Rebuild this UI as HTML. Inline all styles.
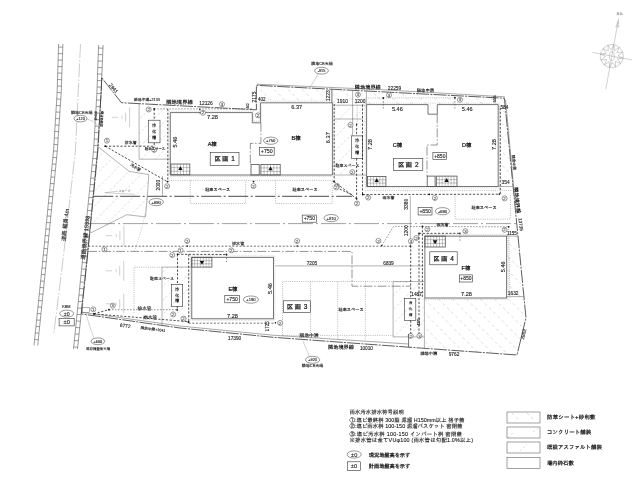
<!DOCTYPE html>
<html lang="ja"><head><meta charset="utf-8"><title>雨水汚水排水計画図</title>
<style>
html,body{margin:0;padding:0;background:#fff;}
body{width:640px;height:477px;overflow:hidden;}
svg{display:block;will-change:transform;}
text{font-family:"Liberation Sans","IPAGothic","Noto Sans CJK JP",sans-serif;}
.t{fill:#222;stroke:#222;stroke-width:.12;}
.tn{fill:#333;stroke:#333;stroke-width:.08;}
.tg{fill:#555;}
.tv{writing-mode:vertical-rl;text-orientation:upright;dominant-baseline:central;}
.t2{fill:#1a1a1a;stroke:#1a1a1a;stroke-width:.22;}
.tk{fill:#111;stroke:#111;stroke-width:.2;letter-spacing:1.1px;word-spacing:-1.2px;}
.tb{fill:#1a1a1a;font-weight:bold;}
.lad{stroke:#5a5a5a;stroke-width:.6;fill:none;}
.cl{stroke:#999;stroke-width:.5;fill:none;stroke-dasharray:14 2 1.5 2;}
.bd{stroke:#333;stroke-width:.8;fill:none;stroke-linejoin:miter;stroke-dasharray:13 1.2 2 1.2;}
.bd2{stroke:#555;stroke-width:.5;fill:none;}
.wall{stroke:#505050;stroke-width:.8;fill:none;}
.walld{stroke:#999;stroke-width:.45;fill:none;stroke-dasharray:.9 .9;}
.thin{stroke:#666;stroke-width:.5;fill:none;}
.thin3{stroke:#555;stroke-width:.55;fill:none;}
.thin2{stroke:#333;stroke-width:.6;fill:none;}
.grid{stroke:#555;stroke-width:.35;fill:none;}
.tri{fill:#111;stroke:none;}
.box{stroke:#333;stroke-width:.6;fill:#fff;}
.nc{stroke:#333;stroke-width:.5;fill:#fff;}
.dot{fill:#111;}
.dotl{stroke:#777;stroke-width:.5;fill:none;stroke-dasharray:1 1.2;}
.pipe{stroke:#222;stroke-width:.8;fill:none;stroke-dasharray:2.2 1.6;}
.pipe2{stroke:#333;stroke-width:.7;fill:none;stroke-dasharray:2 1.6;}
.pipet{stroke:#444;stroke-width:.55;fill:none;stroke-dasharray:1.6 1.4;}
.dd1{stroke:#2a2a2a;stroke-width:.85;fill:none;stroke-dasharray:20 2.5 2 2.5;}
.dd2{stroke:#555;stroke-width:.55;fill:none;stroke-dasharray:25 3 2 3;}
.lot{stroke:#3a3a3a;stroke-width:.55;fill:none;stroke-dasharray:9 1.8 1.5 1.8;}
.hat{stroke:#b4b4b4;stroke-width:.5;fill:none;stroke-dasharray:3 3;}
.hat2{stroke:#bbb;stroke-width:.5;fill:none;stroke-dasharray:2.5 2;}
.gl{stroke:#999;stroke-width:.45;fill:none;}
.gl2{stroke:#a0a0a0;stroke-width:.5;fill:none;}
.arc{stroke:#999;stroke-width:.45;fill:none;stroke-dasharray:1.2 1.2;}
</style></head>
<body>
<svg width="640" height="477" viewBox="0 0 640 477">
<rect x="0" y="0" width="640" height="477" fill="#fff"/>
<polyline points="58.6,44.0 57.1,93.0 53.6,150.0 42.8,260.0 34.0,345.5" class="lad"/>
<polyline points="62.9,44.0 61.2,93.0 57.4,150.0 46.5,260.0 37.7,345.5" class="lad"/>
<polyline points="98.6,45.0 96.9,93.0 93.6,150.0 82.5,260.0 73.5,349.0" class="lad"/>
<polyline points="103.1,45.0 101.1,93.0 97.6,150.0 86.8,260.0 77.5,349.0" class="lad"/>
<line x1="58.5" y1="47.0" x2="62.8" y2="47.2" class="lad"/>
<line x1="58.3" y1="53.5" x2="62.6" y2="53.7" class="lad"/>
<line x1="58.1" y1="60.0" x2="62.3" y2="60.2" class="lad"/>
<line x1="57.9" y1="66.5" x2="62.1" y2="66.7" class="lad"/>
<line x1="57.7" y1="73.0" x2="61.9" y2="73.2" class="lad"/>
<line x1="57.5" y1="79.5" x2="61.7" y2="79.7" class="lad"/>
<line x1="57.3" y1="86.0" x2="61.4" y2="86.2" class="lad"/>
<line x1="57.1" y1="92.5" x2="61.2" y2="92.7" class="lad"/>
<line x1="56.7" y1="99.0" x2="60.8" y2="99.2" class="lad"/>
<line x1="56.3" y1="105.5" x2="60.4" y2="105.7" class="lad"/>
<line x1="55.9" y1="112.0" x2="59.9" y2="112.2" class="lad"/>
<line x1="55.5" y1="118.5" x2="59.5" y2="118.7" class="lad"/>
<line x1="55.1" y1="125.0" x2="59.1" y2="125.2" class="lad"/>
<line x1="54.7" y1="131.5" x2="58.6" y2="131.7" class="lad"/>
<line x1="54.3" y1="138.0" x2="58.2" y2="138.2" class="lad"/>
<line x1="53.9" y1="144.5" x2="57.8" y2="144.7" class="lad"/>
<line x1="53.5" y1="151.0" x2="57.3" y2="151.2" class="lad"/>
<line x1="52.9" y1="157.5" x2="56.7" y2="157.7" class="lad"/>
<line x1="52.2" y1="164.0" x2="56.0" y2="164.2" class="lad"/>
<line x1="51.6" y1="170.5" x2="55.4" y2="170.7" class="lad"/>
<line x1="50.9" y1="177.0" x2="54.7" y2="177.2" class="lad"/>
<line x1="50.3" y1="183.5" x2="54.1" y2="183.7" class="lad"/>
<line x1="49.7" y1="190.0" x2="53.4" y2="190.2" class="lad"/>
<line x1="49.0" y1="196.5" x2="52.8" y2="196.7" class="lad"/>
<line x1="48.4" y1="203.0" x2="52.1" y2="203.2" class="lad"/>
<line x1="47.8" y1="209.5" x2="51.5" y2="209.7" class="lad"/>
<line x1="47.1" y1="216.0" x2="50.9" y2="216.2" class="lad"/>
<line x1="46.5" y1="222.5" x2="50.2" y2="222.7" class="lad"/>
<line x1="45.8" y1="229.0" x2="49.6" y2="229.2" class="lad"/>
<line x1="45.2" y1="235.5" x2="48.9" y2="235.7" class="lad"/>
<line x1="44.6" y1="242.0" x2="48.3" y2="242.2" class="lad"/>
<line x1="43.9" y1="248.5" x2="47.6" y2="248.7" class="lad"/>
<line x1="43.3" y1="255.0" x2="47.0" y2="255.2" class="lad"/>
<line x1="42.6" y1="261.5" x2="46.3" y2="261.7" class="lad"/>
<line x1="42.0" y1="268.0" x2="45.7" y2="268.2" class="lad"/>
<line x1="41.3" y1="274.5" x2="45.0" y2="274.7" class="lad"/>
<line x1="40.6" y1="281.0" x2="44.3" y2="281.2" class="lad"/>
<line x1="40.0" y1="287.5" x2="43.7" y2="287.7" class="lad"/>
<line x1="39.3" y1="294.0" x2="43.0" y2="294.2" class="lad"/>
<line x1="38.6" y1="300.5" x2="42.3" y2="300.7" class="lad"/>
<line x1="38.0" y1="307.0" x2="41.7" y2="307.2" class="lad"/>
<line x1="37.3" y1="313.5" x2="41.0" y2="313.7" class="lad"/>
<line x1="36.6" y1="320.0" x2="40.3" y2="320.2" class="lad"/>
<line x1="36.0" y1="326.5" x2="39.7" y2="326.7" class="lad"/>
<line x1="35.3" y1="333.0" x2="39.0" y2="333.2" class="lad"/>
<line x1="34.6" y1="339.5" x2="38.3" y2="339.7" class="lad"/>
<line x1="98.5" y1="48.0" x2="103.0" y2="48.2" class="lad"/>
<line x1="98.3" y1="54.5" x2="102.7" y2="54.7" class="lad"/>
<line x1="98.0" y1="61.0" x2="102.4" y2="61.2" class="lad"/>
<line x1="97.8" y1="67.5" x2="102.2" y2="67.7" class="lad"/>
<line x1="97.6" y1="74.0" x2="101.9" y2="74.2" class="lad"/>
<line x1="97.3" y1="80.5" x2="101.6" y2="80.7" class="lad"/>
<line x1="97.1" y1="87.0" x2="101.3" y2="87.2" class="lad"/>
<line x1="96.9" y1="93.5" x2="101.1" y2="93.7" class="lad"/>
<line x1="96.5" y1="100.0" x2="100.7" y2="100.2" class="lad"/>
<line x1="96.1" y1="106.5" x2="100.3" y2="106.7" class="lad"/>
<line x1="95.7" y1="113.0" x2="99.9" y2="113.2" class="lad"/>
<line x1="95.4" y1="119.5" x2="99.5" y2="119.7" class="lad"/>
<line x1="95.0" y1="126.0" x2="99.1" y2="126.2" class="lad"/>
<line x1="94.6" y1="132.5" x2="98.7" y2="132.7" class="lad"/>
<line x1="94.2" y1="139.0" x2="98.3" y2="139.2" class="lad"/>
<line x1="93.9" y1="145.5" x2="97.9" y2="145.7" class="lad"/>
<line x1="93.4" y1="152.0" x2="97.4" y2="152.2" class="lad"/>
<line x1="92.7" y1="158.5" x2="96.8" y2="158.7" class="lad"/>
<line x1="92.1" y1="165.0" x2="96.1" y2="165.2" class="lad"/>
<line x1="91.4" y1="171.5" x2="95.5" y2="171.7" class="lad"/>
<line x1="90.8" y1="178.0" x2="94.9" y2="178.2" class="lad"/>
<line x1="90.1" y1="184.5" x2="94.2" y2="184.7" class="lad"/>
<line x1="89.5" y1="191.0" x2="93.6" y2="191.2" class="lad"/>
<line x1="88.8" y1="197.5" x2="92.9" y2="197.7" class="lad"/>
<line x1="88.2" y1="204.0" x2="92.3" y2="204.2" class="lad"/>
<line x1="87.5" y1="210.5" x2="91.7" y2="210.7" class="lad"/>
<line x1="86.8" y1="217.0" x2="91.0" y2="217.2" class="lad"/>
<line x1="86.2" y1="223.5" x2="90.4" y2="223.7" class="lad"/>
<line x1="85.5" y1="230.0" x2="89.7" y2="230.2" class="lad"/>
<line x1="84.9" y1="236.5" x2="89.1" y2="236.7" class="lad"/>
<line x1="84.2" y1="243.0" x2="88.5" y2="243.2" class="lad"/>
<line x1="83.6" y1="249.5" x2="87.8" y2="249.7" class="lad"/>
<line x1="82.9" y1="256.0" x2="87.2" y2="256.2" class="lad"/>
<line x1="82.2" y1="262.5" x2="86.5" y2="262.7" class="lad"/>
<line x1="81.6" y1="269.0" x2="85.9" y2="269.2" class="lad"/>
<line x1="80.9" y1="275.5" x2="85.2" y2="275.7" class="lad"/>
<line x1="80.3" y1="282.0" x2="84.5" y2="282.2" class="lad"/>
<line x1="79.6" y1="288.5" x2="83.8" y2="288.7" class="lad"/>
<line x1="79.0" y1="295.0" x2="83.1" y2="295.2" class="lad"/>
<line x1="78.3" y1="301.5" x2="82.5" y2="301.7" class="lad"/>
<line x1="77.6" y1="308.0" x2="81.8" y2="308.2" class="lad"/>
<line x1="77.0" y1="314.5" x2="81.1" y2="314.7" class="lad"/>
<line x1="76.3" y1="321.0" x2="80.4" y2="321.2" class="lad"/>
<line x1="75.7" y1="327.5" x2="79.7" y2="327.7" class="lad"/>
<line x1="75.0" y1="334.0" x2="79.1" y2="334.2" class="lad"/>
<line x1="74.4" y1="340.5" x2="78.4" y2="340.7" class="lad"/>
<line x1="73.7" y1="347.0" x2="77.7" y2="347.2" class="lad"/>
<polyline points="80.5,44.0 75.5,150.0 62.9,260.7 53.6,335.0" class="cl"/>
<text x="0" y="1.98" font-size="5.5" text-anchor="middle" class="t" transform="translate(65.2 225.1) rotate(-84)">道路 幅員:4m</text>
<text x="0" y="1.98" font-size="5.5" text-anchor="middle" class="t" transform="translate(85.2 237.8) rotate(-84)">道路境界線 15598</text>
<text x="0" y="1.22" font-size="3.4" text-anchor="middle" class="t" transform="translate(95.6 116.0) rotate(-87)">15408</text>
<text x="0" y="1.15" font-size="3.2" text-anchor="middle" class="t" transform="translate(101.8 119.0) rotate(-87)">道路境界線</text>
<clipPath id="c1"><polygon points="256.4,85.3 332.4,89.3 332.4,102.8 260.6,102.8 256.4,102.5"/></clipPath>
<g clip-path="url(#c1)">
<line x1="227.9" y1="85.3" x2="245.4" y2="102.8" class="hat"/>
<line x1="241.9" y1="85.3" x2="259.4" y2="102.8" class="hat"/>
<line x1="255.9" y1="85.3" x2="273.4" y2="102.8" class="hat"/>
<line x1="269.9" y1="85.3" x2="287.4" y2="102.8" class="hat"/>
<line x1="283.9" y1="85.3" x2="301.4" y2="102.8" class="hat"/>
<line x1="297.9" y1="85.3" x2="315.4" y2="102.8" class="hat"/>
<line x1="311.9" y1="85.3" x2="329.4" y2="102.8" class="hat"/>
<line x1="325.9" y1="85.3" x2="343.4" y2="102.8" class="hat"/>
<line x1="339.9" y1="85.3" x2="357.4" y2="102.8" class="hat"/>
<line x1="353.9" y1="85.3" x2="371.4" y2="102.8" class="hat"/>
</g>
<clipPath id="c2"><polygon points="332.4,89.3 504.4,98.2 513.0,187.0 498.2,186.5 498.2,104.6 332.4,104.6"/></clipPath>
<g clip-path="url(#c2)">
<line x1="229.7" y1="89.3" x2="327.4" y2="187.0" class="hat"/>
<line x1="243.7" y1="89.3" x2="341.4" y2="187.0" class="hat"/>
<line x1="257.7" y1="89.3" x2="355.4" y2="187.0" class="hat"/>
<line x1="271.7" y1="89.3" x2="369.4" y2="187.0" class="hat"/>
<line x1="285.7" y1="89.3" x2="383.4" y2="187.0" class="hat"/>
<line x1="299.7" y1="89.3" x2="397.4" y2="187.0" class="hat"/>
<line x1="313.7" y1="89.3" x2="411.4" y2="187.0" class="hat"/>
<line x1="327.7" y1="89.3" x2="425.4" y2="187.0" class="hat"/>
<line x1="341.7" y1="89.3" x2="439.4" y2="187.0" class="hat"/>
<line x1="355.7" y1="89.3" x2="453.4" y2="187.0" class="hat"/>
<line x1="369.7" y1="89.3" x2="467.4" y2="187.0" class="hat"/>
<line x1="383.7" y1="89.3" x2="481.4" y2="187.0" class="hat"/>
<line x1="397.7" y1="89.3" x2="495.4" y2="187.0" class="hat"/>
<line x1="411.7" y1="89.3" x2="509.4" y2="187.0" class="hat"/>
<line x1="425.7" y1="89.3" x2="523.4" y2="187.0" class="hat"/>
<line x1="439.7" y1="89.3" x2="537.4" y2="187.0" class="hat"/>
<line x1="453.7" y1="89.3" x2="551.4" y2="187.0" class="hat"/>
<line x1="467.7" y1="89.3" x2="565.4" y2="187.0" class="hat"/>
<line x1="481.7" y1="89.3" x2="579.4" y2="187.0" class="hat"/>
<line x1="495.7" y1="89.3" x2="593.4" y2="187.0" class="hat"/>
<line x1="509.7" y1="89.3" x2="607.4" y2="187.0" class="hat"/>
<line x1="523.7" y1="89.3" x2="621.4" y2="187.0" class="hat"/>
<line x1="537.7" y1="89.3" x2="635.4" y2="187.0" class="hat"/>
<line x1="551.7" y1="89.3" x2="649.4" y2="187.0" class="hat"/>
<line x1="565.7" y1="89.3" x2="663.4" y2="187.0" class="hat"/>
<line x1="579.7" y1="89.3" x2="677.4" y2="187.0" class="hat"/>
<line x1="593.7" y1="89.3" x2="691.4" y2="187.0" class="hat"/>
<line x1="607.7" y1="89.3" x2="705.4" y2="187.0" class="hat"/>
<line x1="621.7" y1="89.3" x2="719.4" y2="187.0" class="hat"/>
</g>
<clipPath id="c3"><polygon points="334.0,105.2 366.6,105.2 366.6,175.0 334.0,175.0"/></clipPath>
<g clip-path="url(#c3)">
<line x1="325.0" y1="105.2" x2="255.2" y2="175.0" class="hat2"/>
<line x1="339.0" y1="105.2" x2="269.2" y2="175.0" class="hat2"/>
<line x1="353.0" y1="105.2" x2="283.2" y2="175.0" class="hat2"/>
<line x1="367.0" y1="105.2" x2="297.2" y2="175.0" class="hat2"/>
<line x1="381.0" y1="105.2" x2="311.2" y2="175.0" class="hat2"/>
<line x1="395.0" y1="105.2" x2="325.2" y2="175.0" class="hat2"/>
<line x1="409.0" y1="105.2" x2="339.2" y2="175.0" class="hat2"/>
<line x1="423.0" y1="105.2" x2="353.2" y2="175.0" class="hat2"/>
<line x1="437.0" y1="105.2" x2="367.2" y2="175.0" class="hat2"/>
<line x1="451.0" y1="105.2" x2="381.2" y2="175.0" class="hat2"/>
<line x1="465.0" y1="105.2" x2="395.2" y2="175.0" class="hat2"/>
<line x1="479.0" y1="105.2" x2="409.2" y2="175.0" class="hat2"/>
<line x1="493.0" y1="105.2" x2="423.2" y2="175.0" class="hat2"/>
<line x1="507.0" y1="105.2" x2="437.2" y2="175.0" class="hat2"/>
</g>
<clipPath id="c4"><polygon points="424.4,297.9 506.6,297.9 506.6,230.0 516.5,227.0 526.0,317.8 517.0,355.0 424.4,348.3"/></clipPath>
<g clip-path="url(#c4)">
<line x1="282.4" y1="227.0" x2="410.4" y2="355.0" class="hat"/>
<line x1="296.4" y1="227.0" x2="424.4" y2="355.0" class="hat"/>
<line x1="310.4" y1="227.0" x2="438.4" y2="355.0" class="hat"/>
<line x1="324.4" y1="227.0" x2="452.4" y2="355.0" class="hat"/>
<line x1="338.4" y1="227.0" x2="466.4" y2="355.0" class="hat"/>
<line x1="352.4" y1="227.0" x2="480.4" y2="355.0" class="hat"/>
<line x1="366.4" y1="227.0" x2="494.4" y2="355.0" class="hat"/>
<line x1="380.4" y1="227.0" x2="508.4" y2="355.0" class="hat"/>
<line x1="394.4" y1="227.0" x2="522.4" y2="355.0" class="hat"/>
<line x1="408.4" y1="227.0" x2="536.4" y2="355.0" class="hat"/>
<line x1="422.4" y1="227.0" x2="550.4" y2="355.0" class="hat"/>
<line x1="436.4" y1="227.0" x2="564.4" y2="355.0" class="hat"/>
<line x1="450.4" y1="227.0" x2="578.4" y2="355.0" class="hat"/>
<line x1="464.4" y1="227.0" x2="592.4" y2="355.0" class="hat"/>
<line x1="478.4" y1="227.0" x2="606.4" y2="355.0" class="hat"/>
<line x1="492.4" y1="227.0" x2="620.4" y2="355.0" class="hat"/>
<line x1="506.4" y1="227.0" x2="634.4" y2="355.0" class="hat"/>
<line x1="520.4" y1="227.0" x2="648.4" y2="355.0" class="hat"/>
<line x1="534.4" y1="227.0" x2="662.4" y2="355.0" class="hat"/>
<line x1="548.4" y1="227.0" x2="676.4" y2="355.0" class="hat"/>
<line x1="562.4" y1="227.0" x2="690.4" y2="355.0" class="hat"/>
<line x1="576.4" y1="227.0" x2="704.4" y2="355.0" class="hat"/>
<line x1="590.4" y1="227.0" x2="718.4" y2="355.0" class="hat"/>
<line x1="604.4" y1="227.0" x2="732.4" y2="355.0" class="hat"/>
<line x1="618.4" y1="227.0" x2="746.4" y2="355.0" class="hat"/>
<line x1="632.4" y1="227.0" x2="760.4" y2="355.0" class="hat"/>
<line x1="646.4" y1="227.0" x2="774.4" y2="355.0" class="hat"/>
<line x1="660.4" y1="227.0" x2="788.4" y2="355.0" class="hat"/>
</g>
<clipPath id="c5"><polygon points="139.1,103.5 170.3,105.0 170.3,159.2 139.1,159.2"/></clipPath>
<g clip-path="url(#c5)">
<line x1="127.1" y1="103.5" x2="71.4" y2="159.2" class="hat2"/>
<line x1="141.1" y1="103.5" x2="85.4" y2="159.2" class="hat2"/>
<line x1="155.1" y1="103.5" x2="99.4" y2="159.2" class="hat2"/>
<line x1="169.1" y1="103.5" x2="113.4" y2="159.2" class="hat2"/>
<line x1="183.1" y1="103.5" x2="127.4" y2="159.2" class="hat2"/>
<line x1="197.1" y1="103.5" x2="141.4" y2="159.2" class="hat2"/>
<line x1="211.1" y1="103.5" x2="155.4" y2="159.2" class="hat2"/>
<line x1="225.1" y1="103.5" x2="169.4" y2="159.2" class="hat2"/>
<line x1="239.1" y1="103.5" x2="183.4" y2="159.2" class="hat2"/>
<line x1="253.1" y1="103.5" x2="197.4" y2="159.2" class="hat2"/>
<line x1="267.1" y1="103.5" x2="211.4" y2="159.2" class="hat2"/>
<line x1="281.1" y1="103.5" x2="225.4" y2="159.2" class="hat2"/>
<line x1="295.1" y1="103.5" x2="239.4" y2="159.2" class="hat2"/>
</g>
<clipPath id="c6"><polygon points="162.0,267.1 191.8,267.1 191.8,322.0 162.0,325.5"/></clipPath>
<g clip-path="url(#c6)">
<line x1="154.0" y1="267.1" x2="95.6" y2="325.5" class="hat2"/>
<line x1="168.0" y1="267.1" x2="109.6" y2="325.5" class="hat2"/>
<line x1="182.0" y1="267.1" x2="123.6" y2="325.5" class="hat2"/>
<line x1="196.0" y1="267.1" x2="137.6" y2="325.5" class="hat2"/>
<line x1="210.0" y1="267.1" x2="151.6" y2="325.5" class="hat2"/>
<line x1="224.0" y1="267.1" x2="165.6" y2="325.5" class="hat2"/>
<line x1="238.0" y1="267.1" x2="179.6" y2="325.5" class="hat2"/>
<line x1="252.0" y1="267.1" x2="193.6" y2="325.5" class="hat2"/>
<line x1="266.0" y1="267.1" x2="207.6" y2="325.5" class="hat2"/>
<line x1="280.0" y1="267.1" x2="221.6" y2="325.5" class="hat2"/>
<line x1="294.0" y1="267.1" x2="235.6" y2="325.5" class="hat2"/>
<line x1="308.0" y1="267.1" x2="249.6" y2="325.5" class="hat2"/>
<line x1="322.0" y1="267.1" x2="263.6" y2="325.5" class="hat2"/>
</g>
<clipPath id="c7"><polygon points="393.1,281.6 424.4,281.6 424.4,336.9 393.1,336.9"/></clipPath>
<g clip-path="url(#c7)">
<line x1="379.1" y1="281.6" x2="323.8" y2="336.9" class="hat2"/>
<line x1="393.1" y1="281.6" x2="337.8" y2="336.9" class="hat2"/>
<line x1="407.1" y1="281.6" x2="351.8" y2="336.9" class="hat2"/>
<line x1="421.1" y1="281.6" x2="365.8" y2="336.9" class="hat2"/>
<line x1="435.1" y1="281.6" x2="379.8" y2="336.9" class="hat2"/>
<line x1="449.1" y1="281.6" x2="393.8" y2="336.9" class="hat2"/>
<line x1="463.1" y1="281.6" x2="407.8" y2="336.9" class="hat2"/>
<line x1="477.1" y1="281.6" x2="421.8" y2="336.9" class="hat2"/>
<line x1="491.1" y1="281.6" x2="435.8" y2="336.9" class="hat2"/>
<line x1="505.1" y1="281.6" x2="449.8" y2="336.9" class="hat2"/>
<line x1="519.1" y1="281.6" x2="463.8" y2="336.9" class="hat2"/>
<line x1="533.1" y1="281.6" x2="477.8" y2="336.9" class="hat2"/>
<line x1="547.1" y1="281.6" x2="491.8" y2="336.9" class="hat2"/>
</g>
<clipPath id="c8"><polygon points="98.6,147.1 129.0,171.3 148.8,174.6 147.3,196.6 145.5,216.9 126.8,214.7 89.4,233.6 93.5,196.0"/></clipPath>
<g clip-path="url(#c8)">
<line x1="78.4" y1="147.1" x2="-8.1" y2="233.6" class="hat2"/>
<line x1="93.4" y1="147.1" x2="6.9" y2="233.6" class="hat2"/>
<line x1="108.4" y1="147.1" x2="21.9" y2="233.6" class="hat2"/>
<line x1="123.4" y1="147.1" x2="36.9" y2="233.6" class="hat2"/>
<line x1="138.4" y1="147.1" x2="51.9" y2="233.6" class="hat2"/>
<line x1="153.4" y1="147.1" x2="66.9" y2="233.6" class="hat2"/>
<line x1="168.4" y1="147.1" x2="81.9" y2="233.6" class="hat2"/>
<line x1="183.4" y1="147.1" x2="96.9" y2="233.6" class="hat2"/>
<line x1="198.4" y1="147.1" x2="111.9" y2="233.6" class="hat2"/>
<line x1="213.4" y1="147.1" x2="126.9" y2="233.6" class="hat2"/>
<line x1="228.4" y1="147.1" x2="141.9" y2="233.6" class="hat2"/>
<line x1="243.4" y1="147.1" x2="156.9" y2="233.6" class="hat2"/>
<line x1="258.4" y1="147.1" x2="171.9" y2="233.6" class="hat2"/>
<line x1="273.4" y1="147.1" x2="186.9" y2="233.6" class="hat2"/>
<line x1="288.4" y1="147.1" x2="201.9" y2="233.6" class="hat2"/>
<line x1="303.4" y1="147.1" x2="216.9" y2="233.6" class="hat2"/>
<line x1="318.4" y1="147.1" x2="231.9" y2="233.6" class="hat2"/>
<line x1="333.4" y1="147.1" x2="246.9" y2="233.6" class="hat2"/>
</g>
<polyline points="101.8,77.8 101.1,93.0 97.9,150.0 87.1,260.0 81.3,313.9 180.0,328.0 273.0,337.3 420.0,348.0 517.0,355.0 526.0,317.8 504.4,98.2 256.4,85.3 256.4,109.8 121.4,102.7 101.8,77.8" class="bd"/>
<polyline points="256.9,84.2 380.0,89.6 504.9,96.8" class="bd2"/>
<polyline points="82.0,312.3 180.0,326.0 273.0,335.2 408.6,344.0" class="bd2"/>
<polyline points="505.6,100.0 513.6,186.4" class="bd2"/>
<polygon points="170.3,112.6 252.3,112.6 252.3,122.8 260.6,122.8 260.6,102.8 332.4,102.8 332.4,175.0 170.3,175.0" class="wall"/>
<polygon points="168.9,111.2 253.7,111.2 253.7,121.4 259.2,121.4 259.2,101.1 333.8,101.1 333.8,176.4 168.9,176.4" class="walld"/>
<rect x="171.0" y="164.0" width="18.8" height="10.8" class="wall"/>
<line x1="174.1" y1="164.0" x2="174.1" y2="174.8" class="grid"/>
<line x1="177.3" y1="164.0" x2="177.3" y2="174.8" class="grid"/>
<line x1="180.4" y1="164.0" x2="180.4" y2="174.8" class="grid"/>
<line x1="183.5" y1="164.0" x2="183.5" y2="174.8" class="grid"/>
<line x1="186.7" y1="164.0" x2="186.7" y2="174.8" class="grid"/>
<line x1="171.0" y1="167.6" x2="189.8" y2="167.6" class="grid"/>
<line x1="171.0" y1="171.2" x2="189.8" y2="171.2" class="grid"/>
<polygon points="178.2,170.0 182.6,170.0 180.4,166.2" class="tri"/>
<rect x="260.9" y="164.4" width="19.3" height="10.6" class="wall"/>
<line x1="264.1" y1="164.4" x2="264.1" y2="175.0" class="grid"/>
<line x1="267.3" y1="164.4" x2="267.3" y2="175.0" class="grid"/>
<line x1="270.5" y1="164.4" x2="270.5" y2="175.0" class="grid"/>
<line x1="273.8" y1="164.4" x2="273.8" y2="175.0" class="grid"/>
<line x1="277.0" y1="164.4" x2="277.0" y2="175.0" class="grid"/>
<line x1="260.9" y1="167.9" x2="280.2" y2="167.9" class="grid"/>
<line x1="260.9" y1="171.5" x2="280.2" y2="171.5" class="grid"/>
<polygon points="268.3,170.3 272.7,170.3 270.5,166.5" class="tri"/>
<rect x="251.0" y="164.4" width="8.2" height="10.6" class="wall"/>
<polyline points="260.9,122.8 260.9,143.4 250.3,143.4 250.3,164.4" class="lot"/>
<polygon points="366.6,104.6 428.0,104.6 428.0,114.2 437.3,114.2 437.3,104.6 498.2,104.6 498.2,186.5 366.6,186.5" class="wall"/>
<polygon points="365.2,103.2 499.6,103.2 499.6,187.9 365.2,187.9" class="walld"/>
<rect x="367.5" y="176.4" width="18.4" height="10.1" class="wall"/>
<line x1="370.6" y1="176.4" x2="370.6" y2="186.5" class="grid"/>
<line x1="373.6" y1="176.4" x2="373.6" y2="186.5" class="grid"/>
<line x1="376.7" y1="176.4" x2="376.7" y2="186.5" class="grid"/>
<line x1="379.8" y1="176.4" x2="379.8" y2="186.5" class="grid"/>
<line x1="382.8" y1="176.4" x2="382.8" y2="186.5" class="grid"/>
<line x1="367.5" y1="179.8" x2="385.9" y2="179.8" class="grid"/>
<line x1="367.5" y1="183.1" x2="385.9" y2="183.1" class="grid"/>
<polygon points="374.5,182.1 378.9,182.1 376.7,178.2" class="tri"/>
<rect x="436.3" y="176.1" width="20.7" height="10.4" class="wall"/>
<line x1="439.3" y1="176.1" x2="439.3" y2="186.5" class="grid"/>
<line x1="442.2" y1="176.1" x2="442.2" y2="186.5" class="grid"/>
<line x1="445.2" y1="176.1" x2="445.2" y2="186.5" class="grid"/>
<line x1="448.1" y1="176.1" x2="448.1" y2="186.5" class="grid"/>
<line x1="451.1" y1="176.1" x2="451.1" y2="186.5" class="grid"/>
<line x1="454.0" y1="176.1" x2="454.0" y2="186.5" class="grid"/>
<line x1="436.3" y1="179.6" x2="457.0" y2="179.6" class="grid"/>
<line x1="436.3" y1="183.0" x2="457.0" y2="183.0" class="grid"/>
<polygon points="444.4,181.9 448.8,181.9 446.6,178.1" class="tri"/>
<rect x="427.2" y="176.1" width="7.9" height="10.4" class="wall"/>
<polyline points="437.2,114.4 437.2,145.0 427.0,145.0 427.0,176.1" class="lot"/>
<rect x="191.8" y="257.3" width="81.6" height="61.5" class="wall"/>
<rect x="190.4" y="255.9" width="84.4" height="64.3" class="walld"/>
<rect x="191.8" y="257.3" width="20.1" height="9.8" class="wall"/>
<line x1="194.7" y1="257.3" x2="194.7" y2="267.1" class="grid"/>
<line x1="197.5" y1="257.3" x2="197.5" y2="267.1" class="grid"/>
<line x1="200.4" y1="257.3" x2="200.4" y2="267.1" class="grid"/>
<line x1="203.3" y1="257.3" x2="203.3" y2="267.1" class="grid"/>
<line x1="206.2" y1="257.3" x2="206.2" y2="267.1" class="grid"/>
<line x1="209.0" y1="257.3" x2="209.0" y2="267.1" class="grid"/>
<line x1="191.8" y1="260.6" x2="211.9" y2="260.6" class="grid"/>
<line x1="191.8" y1="263.8" x2="211.9" y2="263.8" class="grid"/>
<polygon points="199.7,261.0 204.1,261.0 201.9,264.8" class="tri"/>
<rect x="424.9" y="236.1" width="81.8" height="61.9" class="wall"/>
<polyline points="422.4,299.4 508.1,299.4 508.1,234.7 424.9,234.7" class="walld"/>
<rect x="424.9" y="236.1" width="20.4" height="10.9" class="wall"/>
<line x1="427.8" y1="236.1" x2="427.8" y2="247.0" class="grid"/>
<line x1="430.7" y1="236.1" x2="430.7" y2="247.0" class="grid"/>
<line x1="433.6" y1="236.1" x2="433.6" y2="247.0" class="grid"/>
<line x1="436.6" y1="236.1" x2="436.6" y2="247.0" class="grid"/>
<line x1="439.5" y1="236.1" x2="439.5" y2="247.0" class="grid"/>
<line x1="442.4" y1="236.1" x2="442.4" y2="247.0" class="grid"/>
<line x1="424.9" y1="239.7" x2="445.3" y2="239.7" class="grid"/>
<line x1="424.9" y1="243.4" x2="445.3" y2="243.4" class="grid"/>
<polygon points="432.9,240.3 437.3,240.3 435.1,244.2" class="tri"/>
<polyline points="139.1,103.5 139.1,159.2 170.3,159.2" class="thin"/>
<rect x="148.3" y="120.2" width="11.7" height="22.6" class="thin2"/>
<text x="154.2" y="131.5" font-size="4.2" text-anchor="middle" class="t tv" letter-spacing="1.83">浄化槽</text>
<rect x="351.5" y="135.9" width="11.2" height="22.5" class="thin2"/>
<text x="357.1" y="147.2" font-size="4.2" text-anchor="middle" class="t tv" letter-spacing="1.80">浄化槽</text>
<rect x="171.5" y="284.5" width="11.2" height="21.8" class="thin2"/>
<text x="177.1" y="295.4" font-size="4.2" text-anchor="middle" class="t tv" letter-spacing="1.61">浄化槽</text>
<rect x="404.6" y="298.3" width="11.2" height="22.3" class="thin2"/>
<text x="410.2" y="309.5" font-size="3.4" text-anchor="middle" class="t tv" letter-spacing="2.55">浄化槽</text>
<polyline points="162.0,325.3 162.0,267.1 191.8,267.1" class="thin"/>
<polyline points="424.4,281.6 393.1,281.6 393.1,336.9 424.4,336.9" class="thin"/>
<line x1="424.4" y1="297.9" x2="424.4" y2="348.3" class="thin"/>
<line x1="334.2" y1="105.2" x2="365.4" y2="105.2" class="thin"/>
<line x1="334.2" y1="119.0" x2="362.9" y2="119.0" class="thin"/>
<line x1="333.8" y1="175.0" x2="366.6" y2="175.0" class="thin"/>
<line x1="352.6" y1="90.3" x2="352.6" y2="136.0" class="thin"/>
<line x1="357.2" y1="105.2" x2="357.2" y2="124.0" class="dotl"/>
<line x1="362.5" y1="104.6" x2="362.5" y2="194.5" class="pipe"/>
<line x1="334.2" y1="104.0" x2="334.2" y2="181.6" class="pipe"/>
<line x1="500.3" y1="108.0" x2="500.3" y2="194.1" class="pipe"/>
<line x1="331.9" y1="89.2" x2="331.9" y2="102.8" class="wall"/>
<line x1="498.2" y1="186.5" x2="512.9" y2="186.5" class="thin"/>
<line x1="506.7" y1="296.6" x2="523.9" y2="296.6" class="thin"/>
<line x1="506.7" y1="236.1" x2="517.5" y2="236.1" class="thin"/>
<line x1="366.4" y1="91.0" x2="366.4" y2="104.6" class="thin"/>
<line x1="93.2" y1="196.3" x2="352.0" y2="196.3" class="dd1"/>
<line x1="90.0" y1="223.6" x2="516.0" y2="223.6" class="dd2"/>
<line x1="88.3" y1="246.2" x2="410.6" y2="246.2" class="pipe2"/>
<polyline points="88.0,251.4 352.0,251.4 352.0,286.2 410.7,286.2" class="lot"/>
<line x1="275.4" y1="265.9" x2="423.3" y2="265.9" class="thin"/>
<line x1="410.3" y1="196.0" x2="410.3" y2="246.0" class="thin"/>
<line x1="168.9" y1="180.4" x2="333.8" y2="180.4" class="dotl"/>
<polyline points="190.3,180.4 190.3,203.5 245.6,203.5 245.6,180.4" class="dotl"/>
<polyline points="275.6,180.4 275.6,203.5 332.2,203.5 332.2,180.4" class="dotl"/>
<line x1="365.2" y1="190.4" x2="512.0" y2="190.4" class="dotl"/>
<polyline points="455.1,194.1 455.1,219.2 510.4,219.2 510.4,194.1" class="dotl"/>
<polyline points="282.5,335.5 282.5,281.5 410.0,281.5" class="dotl"/>
<line x1="310.5" y1="281.5" x2="310.5" y2="340.0" class="dotl"/>
<line x1="337.7" y1="281.5" x2="337.7" y2="340.0" class="dotl"/>
<line x1="365.4" y1="281.5" x2="365.4" y2="340.0" class="dotl"/>
<line x1="282.5" y1="335.4" x2="393.0" y2="335.4" class="dotl"/>
<polyline points="162.0,267.2 134.0,267.2 134.0,313.0" class="dotl"/>
<polyline points="98.6,147.1 129.0,171.3 148.8,174.6 147.3,196.6 145.5,216.9 126.8,214.7 89.4,233.6" class="thin"/>
<line x1="162.5" y1="176.0" x2="162.5" y2="196.6" class="thin"/>
<path d="M147.3,196.6 Q146,220 134,252" class="arc"/>
<polyline points="134.5,194.4 104.8,192.7 118.0,191.2" class="gl"/>
<text x="124.5" y="192.2" font-size="2.9" text-anchor="middle" class="tg">スロープ</text>
<line x1="111.7" y1="117.3" x2="118.0" y2="117.3" class="gl2"/>
<line x1="122.0" y1="115.7" x2="122.0" y2="118.9" class="gl2"/>
<line x1="125.6" y1="112.7" x2="125.6" y2="121.9" class="gl2"/>
<line x1="129.6" y1="107.3" x2="129.6" y2="127.3" class="gl2"/>
<line x1="106.0" y1="235.6" x2="112.3" y2="235.6" class="gl2"/>
<line x1="116.3" y1="234.0" x2="116.3" y2="237.2" class="gl2"/>
<line x1="119.9" y1="231.0" x2="119.9" y2="240.2" class="gl2"/>
<line x1="123.9" y1="225.6" x2="123.9" y2="245.6" class="gl2"/>
<line x1="105.8" y1="270.8" x2="112.1" y2="270.8" class="gl2"/>
<line x1="116.1" y1="269.2" x2="116.1" y2="272.4" class="gl2"/>
<line x1="119.7" y1="266.2" x2="119.7" y2="275.4" class="gl2"/>
<line x1="123.7" y1="260.8" x2="123.7" y2="280.8" class="gl2"/>
<line x1="105.8" y1="303.8" x2="112.1" y2="303.8" class="gl2"/>
<line x1="116.1" y1="302.2" x2="116.1" y2="305.4" class="gl2"/>
<line x1="119.7" y1="299.2" x2="119.7" y2="308.4" class="gl2"/>
<line x1="123.7" y1="293.8" x2="123.7" y2="313.8" class="gl2"/>
<line x1="105.2" y1="146.2" x2="154.0" y2="146.2" class="pipe"/>
<line x1="105.2" y1="146.2" x2="167.2" y2="181.6" class="pipe"/>
<line x1="154.2" y1="108.9" x2="154.2" y2="120.2" class="pipe"/>
<line x1="154.2" y1="142.8" x2="154.2" y2="147.0" class="pipe"/>
<line x1="154.2" y1="108.9" x2="252.0" y2="108.9" class="pipet"/>
<line x1="167.8" y1="108.9" x2="167.8" y2="181.6" class="pipe"/>
<circle cx="105.2" cy="146.2" r="0.9" class="dot"/>
<circle cx="154.2" cy="108.9" r="0.9" class="dot"/>
<circle cx="167.6" cy="181.6" r="0.9" class="dot"/>
<circle cx="106.9" cy="140.7" r="2.5" class="nc"/>
<text x="106.9" y="142.3" font-size="4.4" text-anchor="middle" class="tn">1</text>
<circle cx="148.7" cy="109.5" r="2.5" class="nc"/>
<text x="148.7" y="111.1" font-size="4.4" text-anchor="middle" class="tn">2</text>
<circle cx="154.2" cy="149.9" r="2.5" class="nc"/>
<text x="154.2" y="151.5" font-size="4.4" text-anchor="middle" class="tn">2</text>
<circle cx="167.2" cy="186.2" r="2.5" class="nc"/>
<text x="167.2" y="187.8" font-size="4.4" text-anchor="middle" class="tn">2</text>
<circle cx="203.0" cy="112.8" r="2.5" class="nc"/>
<text x="203.0" y="114.4" font-size="4.4" text-anchor="middle" class="tn">2</text>
<circle cx="199.8" cy="109.2" r="0.7" class="dot"/>
<line x1="199.8" y1="109.2" x2="199.8" y2="114.0" class="pipet"/>
<circle cx="222.0" cy="104.2" r="2.5" class="nc"/>
<text x="222.0" y="105.8" font-size="4.4" text-anchor="middle" class="tn">3</text>
<circle cx="258.0" cy="115.3" r="2.5" class="nc"/>
<text x="258.0" y="116.9" font-size="4.4" text-anchor="middle" class="tn">2</text>
<circle cx="253.5" cy="181.6" r="0.9" class="dot"/>
<circle cx="253.5" cy="186.0" r="2.5" class="nc"/>
<text x="253.5" y="187.6" font-size="4.4" text-anchor="middle" class="tn">2</text>
<circle cx="334.0" cy="181.6" r="0.9" class="dot"/>
<circle cx="337.0" cy="186.0" r="2.5" class="nc"/>
<text x="337.0" y="187.6" font-size="4.4" text-anchor="middle" class="tn">2</text>
<line x1="334.0" y1="181.6" x2="356.6" y2="198.8" class="pipe"/>
<line x1="356.6" y1="124.3" x2="356.6" y2="135.9" class="pipe"/>
<line x1="356.6" y1="158.4" x2="356.6" y2="198.8" class="pipe"/>
<circle cx="356.6" cy="124.3" r="0.7" class="dot"/>
<circle cx="356.6" cy="198.8" r="0.9" class="dot"/>
<circle cx="357.0" cy="203.5" r="2.5" class="nc"/>
<text x="357.0" y="205.1" font-size="4.4" text-anchor="middle" class="tn">2</text>
<circle cx="350.6" cy="125.0" r="2.5" class="nc"/>
<text x="350.6" y="126.6" font-size="4.4" text-anchor="middle" class="tn">2</text>
<circle cx="352.3" cy="172.1" r="2.5" class="nc"/>
<text x="352.3" y="173.7" font-size="4.4" text-anchor="middle" class="tn">2</text>
<circle cx="357.9" cy="94.7" r="2.5" class="nc"/>
<text x="357.9" y="96.3" font-size="4.4" text-anchor="middle" class="tn">3</text>
<line x1="362.7" y1="194.5" x2="499.4" y2="194.2" class="pipe"/>
<circle cx="362.7" cy="194.5" r="0.9" class="dot"/>
<circle cx="368.2" cy="197.6" r="2.5" class="nc"/>
<text x="368.2" y="199.2" font-size="4.4" text-anchor="middle" class="tn">2</text>
<circle cx="429.3" cy="194.3" r="0.9" class="dot"/>
<circle cx="434.9" cy="198.0" r="2.5" class="nc"/>
<text x="434.9" y="199.6" font-size="4.4" text-anchor="middle" class="tn">2</text>
<circle cx="499.4" cy="194.1" r="0.9" class="dot"/>
<circle cx="504.6" cy="198.4" r="2.5" class="nc"/>
<text x="504.6" y="200.0" font-size="4.4" text-anchor="middle" class="tn">2</text>
<line x1="366.0" y1="98.0" x2="455.0" y2="97.8" class="dotl"/>
<circle cx="383.3" cy="98.0" r="0.9" class="dot"/>
<circle cx="389.0" cy="95.1" r="2.5" class="nc"/>
<text x="389.0" y="96.7" font-size="4.4" text-anchor="middle" class="tn">3</text>
<line x1="383.3" y1="98.0" x2="383.3" y2="109.0" class="pipet"/>
<circle cx="454.9" cy="97.7" r="0.9" class="dot"/>
<circle cx="459.9" cy="99.8" r="2.5" class="nc"/>
<text x="459.9" y="101.4" font-size="4.4" text-anchor="middle" class="tn">3</text>
<line x1="454.9" y1="98.0" x2="454.9" y2="109.0" class="pipet"/>
<line x1="336.3" y1="187.4" x2="352.0" y2="194.8" class="pipe"/>
<circle cx="336.3" cy="187.4" r="2.5" class="nc"/>
<text x="336.3" y="189.0" font-size="4.4" text-anchor="middle" class="tn">2</text>
<circle cx="187.2" cy="246.0" r="0.8" class="dot"/>
<circle cx="187.2" cy="241.0" r="2.5" class="nc"/>
<text x="187.2" y="242.6" font-size="4.4" text-anchor="middle" class="tn">2</text>
<circle cx="297.1" cy="246.0" r="0.8" class="dot"/>
<circle cx="297.1" cy="241.0" r="2.5" class="nc"/>
<text x="297.1" y="242.6" font-size="4.4" text-anchor="middle" class="tn">2</text>
<circle cx="381.8" cy="245.6" r="0.8" class="dot"/>
<circle cx="378.4" cy="240.9" r="2.5" class="nc"/>
<text x="378.4" y="242.5" font-size="4.4" text-anchor="middle" class="tn">2</text>
<polyline points="381.8,245.6 393.6,226.4 508.7,226.8" class="pipet"/>
<circle cx="410.9" cy="241.2" r="2.5" class="nc"/>
<text x="410.9" y="242.8" font-size="4.4" text-anchor="middle" class="tn">3</text>
<circle cx="104.4" cy="249.4" r="2.5" class="nc"/>
<text x="104.4" y="251.0" font-size="4.4" text-anchor="middle" class="tn">1</text>
<line x1="177.5" y1="254.3" x2="226.5" y2="254.5" class="pipe"/>
<circle cx="177.5" cy="254.3" r="0.9" class="dot"/>
<circle cx="226.5" cy="254.5" r="0.9" class="dot"/>
<line x1="226.5" y1="254.5" x2="226.5" y2="262.0" class="pipet"/>
<circle cx="180.6" cy="250.4" r="2.5" class="nc"/>
<text x="180.6" y="252.0" font-size="4.4" text-anchor="middle" class="tn">1</text>
<circle cx="172.3" cy="255.0" r="2.5" class="nc"/>
<text x="172.3" y="256.6" font-size="4.4" text-anchor="middle" class="tn">2</text>
<circle cx="231.3" cy="250.4" r="2.5" class="nc"/>
<text x="231.3" y="252.0" font-size="4.4" text-anchor="middle" class="tn">2</text>
<line x1="177.5" y1="254.3" x2="177.5" y2="284.5" class="pipe"/>
<line x1="177.3" y1="306.3" x2="177.3" y2="310.0" class="pipe"/>
<circle cx="177.2" cy="309.9" r="0.9" class="dot"/>
<circle cx="173.2" cy="314.4" r="2.5" class="nc"/>
<text x="173.2" y="316.0" font-size="4.4" text-anchor="middle" class="tn">2</text>
<line x1="188.7" y1="254.3" x2="188.7" y2="321.0" class="pipe"/>
<line x1="188.7" y1="323.2" x2="275.4" y2="323.2" class="pipe2"/>
<circle cx="183.5" cy="318.6" r="2.5" class="nc"/>
<text x="183.5" y="320.2" font-size="4.4" text-anchor="middle" class="tn">2</text>
<circle cx="188.5" cy="322.0" r="1.1" class="dot"/>
<line x1="109.0" y1="309.7" x2="177.2" y2="309.7" class="pipet"/>
<polyline points="93.9,313.7 109.0,309.7" class="pipe"/>
<line x1="93.9" y1="313.9" x2="188.2" y2="321.6" class="pipe"/>
<circle cx="93.9" cy="313.9" r="0.9" class="dot"/>
<circle cx="109.0" cy="309.7" r="0.9" class="dot"/>
<circle cx="93.3" cy="309.3" r="2.5" class="nc"/>
<text x="93.3" y="310.9" font-size="4.4" text-anchor="middle" class="tn">1</text>
<circle cx="112.8" cy="305.7" r="2.5" class="nc"/>
<text x="112.8" y="307.3" font-size="4.4" text-anchor="middle" class="tn">3</text>
<rect x="82.6" y="307.6" width="6.9" height="5.0" class="thin"/>
<circle cx="275.4" cy="322.7" r="0.8" class="dot"/>
<circle cx="280.1" cy="322.9" r="2.5" class="nc"/>
<text x="280.1" y="324.5" font-size="4.4" text-anchor="middle" class="tn">2</text>
<circle cx="422.4" cy="226.4" r="0.9" class="dot"/>
<circle cx="427.4" cy="229.3" r="2.5" class="nc"/>
<text x="427.4" y="230.9" font-size="4.4" text-anchor="middle" class="tn">2</text>
<circle cx="508.7" cy="226.8" r="0.9" class="dot"/>
<circle cx="504.6" cy="229.8" r="2.5" class="nc"/>
<text x="504.6" y="231.4" font-size="4.4" text-anchor="middle" class="tn">2</text>
<line x1="419.0" y1="233.4" x2="459.9" y2="233.3" class="pipe"/>
<circle cx="459.9" cy="233.3" r="0.8" class="dot"/>
<circle cx="465.4" cy="231.2" r="2.5" class="nc"/>
<text x="465.4" y="232.8" font-size="4.4" text-anchor="middle" class="tn">3</text>
<line x1="459.9" y1="233.3" x2="459.9" y2="241.0" class="pipet"/>
<circle cx="419.0" cy="233.4" r="0.8" class="dot"/>
<circle cx="416.4" cy="238.0" r="2.5" class="nc"/>
<text x="416.4" y="239.6" font-size="4.4" text-anchor="middle" class="tn">2</text>
<line x1="410.7" y1="245.5" x2="410.7" y2="297.9" class="pipe"/>
<line x1="410.7" y1="320.6" x2="410.7" y2="335.7" class="pipe"/>
<line x1="419.0" y1="233.4" x2="419.0" y2="335.7" class="pipe"/>
<line x1="422.4" y1="226.3" x2="422.4" y2="298.0" class="pipe"/>
<circle cx="410.6" cy="246.2" r="0.8" class="dot"/>
<circle cx="410.7" cy="335.9" r="2.5" class="nc"/>
<text x="410.7" y="337.5" font-size="4.4" text-anchor="middle" class="tn">2</text>
<circle cx="419.4" cy="335.9" r="2.5" class="nc"/>
<text x="419.4" y="337.5" font-size="4.4" text-anchor="middle" class="tn">3</text>
<line x1="408.6" y1="334.0" x2="408.6" y2="347.2" class="wall"/>
<line x1="508.7" y1="226.8" x2="509.9" y2="297.9" class="dotl"/>
<rect x="210.2" y="152.3" width="28.8" height="13.1" class="box"/>
<text x="225.2" y="161.3" font-size="6.5" text-anchor="middle" class="tk">区画 1</text>
<rect x="393.6" y="158.4" width="29.2" height="12.0" class="box"/>
<text x="408.8" y="166.8" font-size="6.5" text-anchor="middle" class="tk">区画 2</text>
<rect x="283.5" y="300.8" width="27.0" height="11.8" class="box"/>
<text x="297.6" y="309.1" font-size="6.5" text-anchor="middle" class="tk">区画 3</text>
<rect x="429.8" y="251.8" width="27.4" height="13.0" class="box"/>
<text x="444.1" y="260.7" font-size="6.5" text-anchor="middle" class="tk">区画 4</text>
<ellipse cx="270.7" cy="140.7" rx="7.2" ry="3.6" class="nc"/>
<text x="270.7" y="142.2" font-size="4.1" text-anchor="middle" class="t">+750</text>
<rect x="259.4" y="147.4" width="14.8" height="7.8" class="box"/>
<text x="266.8" y="153.2" font-size="5.3" text-anchor="middle" class="t">+750</text>
<rect x="432.9" y="152.4" width="13.7" height="7.0" class="box"/>
<text x="439.8" y="157.7" font-size="5.0" text-anchor="middle" class="t">+850</text>
<ellipse cx="156.2" cy="202.1" rx="7.2" ry="3.6" class="nc"/>
<text x="156.2" y="203.6" font-size="4.1" text-anchor="middle" class="t">+690</text>
<rect x="302.2" y="215.1" width="14.2" height="7.1" class="box"/>
<text x="309.3" y="220.4" font-size="5.0" text-anchor="middle" class="t">+750</text>
<ellipse cx="331.2" cy="218.1" rx="7.2" ry="3.6" class="nc"/>
<text x="331.2" y="219.6" font-size="4.1" text-anchor="middle" class="t">+810</text>
<rect x="418.1" y="207.4" width="13.9" height="7.6" class="box"/>
<text x="425.1" y="213.0" font-size="5.0" text-anchor="middle" class="t">+850</text>
<ellipse cx="442.5" cy="211.2" rx="7.2" ry="3.6" class="nc"/>
<text x="442.5" y="212.7" font-size="4.1" text-anchor="middle" class="t">+690</text>
<rect x="224.8" y="295.6" width="14.6" height="7.2" class="box"/>
<text x="232.1" y="301.0" font-size="5.0" text-anchor="middle" class="t">+750</text>
<ellipse cx="250.9" cy="299.6" rx="7.6" ry="3.6" class="nc"/>
<text x="250.9" y="301.1" font-size="4.1" text-anchor="middle" class="t">+190</text>
<rect x="459.3" y="274.9" width="13.4" height="7.1" class="box"/>
<text x="466.0" y="280.2" font-size="5.0" text-anchor="middle" class="t">+850</text>
<text x="212.3" y="146.3" font-size="5.5" text-anchor="middle" class="t2">A棟</text>
<text x="296.2" y="139.7" font-size="5.5" text-anchor="middle" class="t2">B棟</text>
<text x="397.4" y="147.0" font-size="5.5" text-anchor="middle" class="t2">C棟</text>
<text x="466.8" y="147.0" font-size="5.5" text-anchor="middle" class="t2">D棟</text>
<text x="233.0" y="291.3" font-size="5.5" text-anchor="middle" class="t2">E棟</text>
<text x="466.0" y="270.2" font-size="5.5" text-anchor="middle" class="t2">F棟</text>
<text x="212.5" y="118.7" font-size="5.6" text-anchor="middle" class="t">7.28</text>
<text x="0" y="2.02" font-size="5.6" text-anchor="middle" class="t" transform="translate(174.6 142.0) rotate(-90)">5.46</text>
<text x="296.7" y="108.6" font-size="5.6" text-anchor="middle" class="t">6.37</text>
<text x="0" y="2.02" font-size="5.6" text-anchor="middle" class="t" transform="translate(328.3 137.7) rotate(-90)">6.37</text>
<text x="397.4" y="110.5" font-size="5.6" text-anchor="middle" class="t">5.46</text>
<text x="467.3" y="110.9" font-size="5.6" text-anchor="middle" class="t">5.46</text>
<text x="0" y="2.02" font-size="5.6" text-anchor="middle" class="t" transform="translate(369.9 144.5) rotate(-90)">7.28</text>
<text x="0" y="2.02" font-size="5.6" text-anchor="middle" class="t" transform="translate(494.3 144.5) rotate(-90)">7.28</text>
<text x="232.5" y="317.7" font-size="5.6" text-anchor="middle" class="t">7.28</text>
<text x="0" y="2.02" font-size="5.6" text-anchor="middle" class="t" transform="translate(269.7 288.6) rotate(-90)">5.46</text>
<text x="466.5" y="296.0" font-size="5.6" text-anchor="middle" class="t">7.28</text>
<text x="0" y="2.02" font-size="5.6" text-anchor="middle" class="t" transform="translate(502.6 266.8) rotate(-90)">5.46</text>
<text x="0" y="1.76" font-size="4.9" text-anchor="middle" class="t" transform="translate(113.6 88.2) rotate(51)">2941</text>
<text x="147.0" y="100.8" font-size="3.8" text-anchor="middle" class="t">隣地中溝+2133</text>
<text x="179.5" y="104.2" font-size="5.3" text-anchor="middle" class="tb">隣地境界線</text>
<text x="206.0" y="105.4" font-size="4.9" text-anchor="middle" class="t">12126</text>
<text x="0" y="1.80" font-size="5.0" text-anchor="middle" class="t" transform="translate(254.2 97.0) rotate(-90)">2175</text>
<text x="261.8" y="101.3" font-size="4.5" text-anchor="middle" class="t">402</text>
<text x="0" y="1.08" font-size="3" text-anchor="middle" class="t" transform="translate(247.6 105.8) rotate(-90)">342</text>
<text x="0" y="1.80" font-size="5.0" text-anchor="middle" class="t" transform="translate(327.9 95.7) rotate(-90)">1223</text>
<text x="342.5" y="103.4" font-size="4.9" text-anchor="middle" class="t">1910</text>
<text x="360.1" y="103.4" font-size="4.9" text-anchor="middle" class="t">1200</text>
<text x="367.8" y="89.1" font-size="5.2" text-anchor="middle" class="tb">隣地境界線</text>
<text x="394.5" y="90.2" font-size="4.9" text-anchor="middle" class="t">22259</text>
<text x="425.4" y="91.6" font-size="4.3" text-anchor="middle" class="t">隣地中溝</text>
<text x="0" y="1.51" font-size="4.2" text-anchor="middle" class="t" transform="translate(494.5 99.0) rotate(-90)">655</text>
<text x="504.4" y="109.3" font-size="4.8" text-anchor="middle" class="t">584</text>
<text x="505.6" y="183.6" font-size="4.8" text-anchor="middle" class="t">354</text>
<text x="0" y="1.37" font-size="3.8" text-anchor="middle" class="t" transform="translate(513.9 162.3) rotate(84)">隣地中溝</text>
<text x="0" y="1.87" font-size="5.2" text-anchor="middle" class="tb" transform="translate(517.2 200.3) rotate(84)">隣地境界線</text>
<text x="0" y="1.66" font-size="4.6" text-anchor="middle" class="t" transform="translate(520.9 224.5) rotate(84)">13735</text>
<text x="511.9" y="235.4" font-size="4.5" text-anchor="middle" class="t">1155</text>
<text x="513.2" y="295.0" font-size="4.8" text-anchor="middle" class="t">1632</text>
<text x="416.6" y="295.7" font-size="4.8" text-anchor="middle" class="t">1487</text>
<text x="0" y="1.15" font-size="3.2" text-anchor="middle" class="t" transform="translate(418.4 322.0) rotate(-90)">4375</text>
<text x="0" y="1.73" font-size="4.8" text-anchor="middle" class="t" transform="translate(523.4 334.2) rotate(-76)">2852</text>
<text x="454.0" y="355.9" font-size="4.8" text-anchor="middle" class="t">9762</text>
<text x="428.8" y="354.7" font-size="4.2" text-anchor="middle" class="t">隣地中溝</text>
<text x="341.0" y="349.1" font-size="5.2" text-anchor="middle" class="tb">隣地境界線</text>
<text x="366.4" y="349.5" font-size="4.7" text-anchor="middle" class="t">10010</text>
<text x="309.0" y="336.6" font-size="4.8" text-anchor="middle" class="t">隣地中溝</text>
<text x="234.6" y="340.0" font-size="4.7" text-anchor="middle" class="t">17390</text>
<text x="0" y="1.73" font-size="4.8" text-anchor="middle" class="t" transform="translate(125.3 325.6) rotate(7)">8772</text>
<text x="0" y="1.33" font-size="3.7" text-anchor="middle" class="t" transform="translate(153.0 329.2) rotate(7)">隣地中溝+2041</text>
<text x="0" y="1.62" font-size="4.5" text-anchor="middle" class="t" transform="translate(267.2 326.3) rotate(-90)">1725</text>
<text x="0" y="1.73" font-size="4.8" text-anchor="middle" class="t" transform="translate(158.6 185.2) rotate(-90)">2000</text>
<text x="0" y="1.80" font-size="5.0" text-anchor="middle" class="t" transform="translate(406.6 204.3) rotate(-90)">3380</text>
<text x="0" y="1.80" font-size="5.0" text-anchor="middle" class="t" transform="translate(406.6 230.7) rotate(-90)">1200</text>
<text x="311.9" y="264.6" font-size="4.7" text-anchor="middle" class="t">7205</text>
<text x="388.5" y="264.6" font-size="4.7" text-anchor="middle" class="t">6839</text>
<text x="217.7" y="191.2" font-size="4.2" text-anchor="middle" class="t">駐車スペース</text>
<text x="305.0" y="190.9" font-size="4.2" text-anchor="middle" class="t">駐車スペース</text>
<text x="484.0" y="208.9" font-size="4.2" text-anchor="middle" class="t">駐車スペース</text>
<text x="351.0" y="311.0" font-size="4.2" text-anchor="middle" class="t">駐車スペース</text>
<text x="162.0" y="279.6" font-size="4.0" text-anchor="middle" class="t">駐車スペース</text>
<text x="347.6" y="166.6" font-size="4.0" text-anchor="middle" class="t">駐車スペース</text>
<text x="155.0" y="150.1" font-size="3.4" text-anchor="middle" class="t">駐車スペース</text>
<text x="130.8" y="144.0" font-size="4.0" text-anchor="middle" class="t">排水管</text>
<text x="0" y="1.37" font-size="3.8" text-anchor="middle" class="t" transform="translate(135.5 167.3) rotate(32)">汚水管</text>
<text x="238.1" y="244.6" font-size="4.1" text-anchor="middle" class="t">排水管</text>
<text x="388.4" y="199.3" font-size="4.0" text-anchor="middle" class="t">雨水管</text>
<text x="442.4" y="226.2" font-size="4.0" text-anchor="middle" class="t">雨水管</text>
<text x="144.5" y="309.7" font-size="4.7" text-anchor="middle" class="t">排水管</text>
<text x="150.2" y="318.9" font-size="4.7" text-anchor="middle" class="t">雨水管</text>
<text x="81.8" y="113.6" font-size="4.0" text-anchor="middle" class="t">隣地CB天端</text>
<ellipse cx="80.5" cy="118.6" rx="6.5" ry="3.3" class="nc"/>
<text x="80.5" y="120.0" font-size="3.8" text-anchor="middle" class="t">+120</text>
<polyline points="86.8,118.8 92.0,121.0 96.9,124.3" class="gl"/>
<text x="322.0" y="65.3" font-size="4.0" text-anchor="middle" class="t">隣地CB天端</text>
<ellipse cx="321.5" cy="70.7" rx="6.9" ry="3.4" class="nc"/>
<text x="321.5" y="72.1" font-size="3.8" text-anchor="middle" class="t">-815</text>
<line x1="318.2" y1="74.0" x2="310.7" y2="86.5" class="gl"/>
<ellipse cx="97.9" cy="341.3" rx="6.8" ry="3.4" class="nc"/>
<text x="97.9" y="342.7" font-size="3.8" text-anchor="middle" class="t">+600</text>
<text x="98.2" y="349.8" font-size="3.4" text-anchor="middle" class="t">既存擁壁新天端</text>
<path d="M86.4,315.1 Q90,328 93.9,337.8" class="gl"/>
<ellipse cx="312.6" cy="359.8" rx="7.1" ry="3.5" class="nc"/>
<text x="312.6" y="361.2" font-size="3.8" text-anchor="middle" class="t">+920</text>
<text x="312.6" y="367.3" font-size="4.0" text-anchor="middle" class="t">隣地CB天端</text>
<line x1="302.9" y1="340.7" x2="309.4" y2="356.6" class="gl"/>
<text x="66.4" y="307.7" font-size="3.8" text-anchor="middle" class="t">KBM</text>
<ellipse cx="66.7" cy="313.6" rx="7" ry="3.5" class="nc"/>
<text x="66.7" y="315.5" font-size="5.2" text-anchor="middle" class="t">±0</text>
<rect x="59.1" y="318.4" width="15.1" height="7.5" class="box"/>
<text x="66.7" y="324.2" font-size="5.8" text-anchor="middle" class="t">±0</text>
<circle cx="611.8" cy="56.1" r="11.6" class="gl"/>
<ellipse cx="611.8" cy="56.1" rx="2.5" ry="4.5" class="gl"/>
<line x1="618.6" y1="18.5" x2="605.8" y2="89.2" class="gl"/>
<line x1="592.3" y1="52.4" x2="631.9" y2="59.9" class="gl"/>
<polyline points="613.9,44.7 614.5,50.5 619.3,47.3 616.9,52.6 622.7,52.2 618.0,55.6 623.2,58.2 617.4,58.8 620.6,63.6 615.3,61.2 615.7,67.0 612.3,62.3 609.7,67.5 609.1,61.7 604.3,64.9 606.7,59.6 600.9,60.0 605.6,56.6 600.4,54.0 606.2,53.4 603.0,48.6 608.3,51.0 607.9,45.2 611.3,49.9 613.9,44.7" class="gl"/>
<polygon points="618.2,21.0 615.8,26.6 618.9,27.0" class="gl"/>
<text x="619.6" y="14.6" font-size="3.4" text-anchor="middle" class="tg">真北</text>
<text x="349.5" y="414.0" font-size="5.4" text-anchor="start" class="t" textLength="54.3" lengthAdjust="spacing">雨水汚水排水符号説明</text>
<text x="349.5" y="421.5" font-size="5.4" text-anchor="start" class="t" textLength="115" lengthAdjust="spacing">①:塩ビ最終桝 300型 泥溜 H150mm以上 格子蓋</text>
<text x="349.5" y="428.1" font-size="5.4" text-anchor="start" class="t" textLength="113" lengthAdjust="spacing">②:塩ビ雨水桝 100-150 泥溜バスケット 密閉蓋</text>
<text x="349.5" y="435.5" font-size="5.4" text-anchor="start" class="t" textLength="112.5" lengthAdjust="spacing">③:塩ビ汚水桝 100-150 インバート桝 密閉蓋</text>
<text x="349.5" y="442.2" font-size="5.4" text-anchor="start" class="t" textLength="123.5" lengthAdjust="spacing">※排水管は全てVUφ100 (雨水管は勾配1.0%以上)</text>
<ellipse cx="354.2" cy="454.5" rx="7.1" ry="3.6" class="nc"/>
<text x="354.2" y="456.5" font-size="5.6" text-anchor="middle" class="t">±0</text>
<text x="368.8" y="456.5" font-size="5.3" text-anchor="start" class="t2" textLength="41.5" lengthAdjust="spacing">現況地盤高を示す</text>
<rect x="347.5" y="461.8" width="13.0" height="8.7" class="box"/>
<text x="354.0" y="468.2" font-size="5.8" text-anchor="middle" class="t">±0</text>
<text x="368.8" y="468.3" font-size="5.3" text-anchor="start" class="t2" textLength="41.5" lengthAdjust="spacing">計画地盤高を示す</text>
<rect x="507.0" y="412.0" width="33.0" height="11.0" class="thin3"/>
<text x="547.0" y="419.4" font-size="5.4" text-anchor="start" class="t2" textLength="48.5" lengthAdjust="spacing">防草シート+砂利敷</text>
<rect x="507.0" y="427.0" width="33.0" height="11.0" class="thin3"/>
<text x="547.0" y="434.4" font-size="5.4" text-anchor="start" class="t2" textLength="44.2" lengthAdjust="spacing">コンクリート舗装</text>
<rect x="507.0" y="442.0" width="33.0" height="11.0" class="thin3"/>
<text x="547.0" y="449.4" font-size="5.4" text-anchor="start" class="t2" textLength="54.8" lengthAdjust="spacing">既設アスファルト舗装</text>
<rect x="507.0" y="457.5" width="33.0" height="11.0" class="thin3"/>
<text x="547.0" y="464.9" font-size="5.4" text-anchor="start" class="t2" textLength="26.8" lengthAdjust="spacing">場内砕石敷</text>
<line x1="512.0" y1="413.0" x2="520.0" y2="421.0" class="hat"/>
<line x1="527.0" y1="413.0" x2="535.0" y2="421.0" class="hat"/>
<line x1="508.0" y1="438.0" x2="513.0" y2="433.0" class="hat2"/>
<line x1="533.0" y1="432.0" x2="539.0" y2="427.5" class="hat2"/>
<line x1="520.0" y1="451.0" x2="527.0" y2="444.0" class="hat2"/>
</svg>
</body></html>
